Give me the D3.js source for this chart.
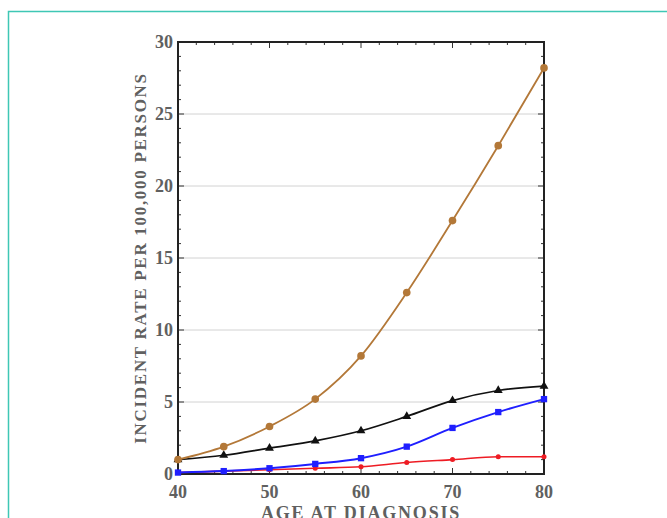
<!DOCTYPE html>
<html>
<head>
<meta charset="utf-8">
<script src="https://cdn.jsdelivr.net/npm/d3@7"></script>
<style>
  body { margin: 0; background: #fff; }
  svg { display: block; }
  .tick-label { font-family: "Liberation Serif", "Times New Roman", serif; font-weight: bold; fill: #606060; }
</style>
</head>
<body>
<svg id="chart" width="667" height="518"></svg>
<script>
// ages on x axis
const ages = [40, 45, 50, 55, 60, 65, 70, 75, 80];
// incidence rates per 100,000 persons
const brownRates = [1.0, 1.9, 3.3, 5.2, 8.2, 12.6, 17.6, 22.8, 28.2];
const blackRates = [1.0, 1.3, 1.8, 2.3, 3.0, 4.0, 5.1, 5.8, 6.1];
const blueRates = [0.1, 0.2, 0.4, 0.7, 1.1, 1.9, 3.2, 4.3, 5.2];
const redRates = [0.1, 0.2, 0.3, 0.4, 0.5, 0.8, 1.0, 1.2, 1.2];
const xTicks = [40, 50, 60, 70, 80];
const yTicks = [0, 5, 10, 15, 20, 25, 30];

const svg = d3.select("#chart");
const plotLeft = 178, plotRight = 544, plotTop = 42, plotBottom = 474;

// teal frame
svg.append("path")
    .attr("d", "M8.5,520 L8.5,11.5 L670,11.5")
    .attr("fill", "none")
    .attr("stroke", "#3fc7b5")
    .attr("stroke-width", 1.5);

var x = d3.scaleLinear().domain([40, 80]).range([plotLeft, plotRight]);
var y = d3.scaleLinear().domain([0, 30]).range([plotBottom, plotTop]);

// horizontal grid
svg.append("g").selectAll("line")
    .data(yTicks.filter(d => d > 0 && d < 30))
    .join("line")
    .attr("x1", plotLeft).attr("x2", plotRight)
    .attr("y1", d => y(d)).attr("y2", d => y(d))
    .attr("stroke", "#d2d2d2")
    .attr("stroke-width", 1);

// inward ticks on all four sides
var minorX = d3.range(40, 81, 2), minorY = d3.range(0, 31, 1);
var tg = svg.append("g").attr("stroke", "#333");
minorX.forEach(v => {
    var len = v % 10 == 0 ? 6 : 3;
    tg.append("line").attr("x1", x(v)).attr("x2", x(v)).attr("y1", plotBottom).attr("y2", plotBottom - len);
    tg.append("line").attr("x1", x(v)).attr("x2", x(v)).attr("y1", plotTop).attr("y2", plotTop + len);
});
minorY.forEach(v => {
    var len = v % 5 == 0 ? 6 : 3;
    tg.append("line").attr("y1", y(v)).attr("y2", y(v)).attr("x1", plotLeft).attr("x2", plotLeft + len);
    tg.append("line").attr("y1", y(v)).attr("y2", y(v)).attr("x1", plotRight).attr("x2", plotRight - len);
});

// frame
svg.append("rect")
    .attr("x", plotLeft).attr("y", plotTop)
    .attr("width", plotRight - plotLeft).attr("height", plotBottom - plotTop)
    .attr("fill", "none").attr("stroke", "#222").attr("stroke-width", 2);

// tick labels
svg.append("g").selectAll("text")
    .data(yTicks)
    .join("text")
    .attr("class", "tick-label")
    .attr("x", plotLeft - 5)
    .attr("y", d => y(d) + 6)
    .attr("text-anchor", "end")
    .attr("font-size", 18)
    .text(d => d);

svg.append("g").selectAll("text")
    .data(xTicks)
    .join("text")
    .attr("class", "tick-label")
    .attr("x", d => x(d))
    .attr("y", 498)
    .attr("text-anchor", "middle")
    .attr("font-size", 18)
    .text(d => d);

// axis titles
svg.append("text")
    .attr("class", "tick-label")
    .attr("transform", "translate(146," + ((plotTop + plotBottom) / 2) + ") rotate(-90)")
    .attr("text-anchor", "middle")
    .attr("font-size", 17)
    .attr("letter-spacing", 1.7)
    .text("INCIDENT RATE PER 100,000 PERSONS");

svg.append("text")
    .attr("class", "tick-label")
    .attr("x", (plotLeft + plotRight) / 2)
    .attr("y", 519)
    .attr("text-anchor", "middle")
    .attr("font-size", 18)
    .attr("letter-spacing", 1.8)
    .text("AGE AT DIAGNOSIS");

var line = d3.line().x(d => x(d[0])).y(d => y(d[1])).curve(d3.curveMonotoneX);

function drawSeries(values, color, width, marker) {
    var pts = ages.map((a, i) => [a, values[i]]);
    svg.append("path")
        .datum(pts)
        .attr("d", line)
        .attr("fill", "none")
        .attr("stroke", color)
        .attr("stroke-width", width);
    svg.append("g").selectAll("path")
        .data(pts)
        .join("path")
        .attr("transform", d => "translate(" + x(d[0]) + "," + y(d[1]) + ")")
        .attr("d", d3.symbol().type(marker.type).size(marker.size))
        .attr("fill", color);
}

drawSeries(redRates, "#ee1c24", 1.6, { type: d3.symbolCircle, size: 20 });
drawSeries(blueRates, "#1f1fff", 2, { type: d3.symbolSquare, size: 40 });
drawSeries(blackRates, "#111", 1.7, { type: d3.symbolTriangle, size: 34 });
drawSeries(brownRates, "#b37838", 1.8, { type: d3.symbolCircle, size: 46 });
</script>
</body>
</html>
